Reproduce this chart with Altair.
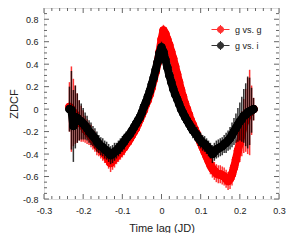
import altair as alt
import pandas as pd

# ---- data ----
LAGS = [
    -0.235, -0.230, -0.225, -0.220, -0.215, -0.210, -0.205, -0.200, -0.195, -0.190,
    -0.185, -0.180, -0.175, -0.170, -0.165, -0.160, -0.155, -0.150, -0.145, -0.140,
    -0.135, -0.130, -0.125, -0.120, -0.115, -0.110, -0.105, -0.100, -0.095, -0.090,
    -0.085, -0.080, -0.075, -0.070, -0.065, -0.060, -0.055, -0.050, -0.045, -0.040,
    -0.035, -0.030, -0.025, -0.020, -0.015, -0.010, -0.005, 0.000, 0.005, 0.010,
    0.015, 0.020, 0.025, 0.030, 0.035, 0.040, 0.045, 0.050, 0.055, 0.060,
    0.065, 0.070, 0.075, 0.080, 0.085, 0.090, 0.095, 0.100, 0.105, 0.110,
    0.115, 0.120, 0.125, 0.130, 0.135, 0.140, 0.145, 0.150, 0.155, 0.160,
    0.165, 0.170, 0.175, 0.180, 0.185, 0.190, 0.195, 0.200, 0.205, 0.210,
    0.215, 0.220, 0.225, 0.230, 0.235,
]

GG = [
    0.02, 0.00, -0.03, -0.05, -0.08, -0.10, -0.13, -0.15, -0.18, -0.20,
    -0.22, -0.24, -0.27, -0.29, -0.32, -0.34, -0.36, -0.38, -0.40, -0.42,
    -0.45, -0.48, -0.46, -0.44, -0.42, -0.40, -0.38, -0.36, -0.34, -0.31,
    -0.29, -0.26, -0.23, -0.20, -0.17, -0.13, -0.09, -0.05, -0.01, 0.04,
    0.08, 0.13, 0.19, 0.26, 0.33, 0.41, 0.51, 0.62, 0.70, 0.67,
    0.62, 0.57, 0.51, 0.45, 0.38, 0.31, 0.24, 0.17, 0.11, 0.05,
    0.00, -0.05, -0.10, -0.14, -0.18, -0.22, -0.26, -0.30, -0.34, -0.38,
    -0.42, -0.46, -0.50, -0.53, -0.55, -0.57, -0.58, -0.58, -0.59, -0.60,
    -0.62, -0.64, -0.62, -0.58, -0.52, -0.45, -0.37, -0.30, -0.22, -0.15,
    -0.10, -0.06, -0.03, -0.01, 0.00,
]
GG_ERR = [
    0.22, 0.38, 0.30, 0.26, 0.22, 0.18, 0.16, 0.14, 0.12, 0.11,
    0.10, 0.10, 0.09, 0.09, 0.09, 0.08, 0.08, 0.08, 0.08, 0.08,
    0.08, 0.08, 0.08, 0.08, 0.07, 0.07, 0.07, 0.07, 0.07, 0.06,
    0.06, 0.06, 0.06, 0.06, 0.06, 0.06, 0.06, 0.06, 0.06, 0.06,
    0.06, 0.06, 0.05, 0.05, 0.05, 0.05, 0.05, 0.05, 0.05, 0.05,
    0.05, 0.05, 0.05, 0.06, 0.06, 0.06, 0.06, 0.06, 0.06, 0.06,
    0.06, 0.06, 0.06, 0.07, 0.07, 0.07, 0.07, 0.07, 0.07, 0.08,
    0.08, 0.08, 0.08, 0.08, 0.08, 0.08, 0.08, 0.08, 0.08, 0.08,
    0.08, 0.08, 0.09, 0.10, 0.11, 0.12, 0.14, 0.17, 0.20, 0.24,
    0.28, 0.34, 0.38, 0.22, 0.10,
]

GI = [
    0.00, -0.01, -0.15, -0.07, -0.08, -0.10, -0.11, -0.13, -0.15, -0.17,
    -0.20, -0.22, -0.24, -0.26, -0.29, -0.31, -0.33, -0.34, -0.36, -0.37,
    -0.39, -0.41, -0.40, -0.38, -0.37, -0.35, -0.33, -0.31, -0.29, -0.26,
    -0.24, -0.22, -0.19, -0.16, -0.13, -0.10, -0.07, -0.03, 0.02, 0.06,
    0.11, 0.16, 0.22, 0.28, 0.35, 0.42, 0.50, 0.55, 0.51, 0.44,
    0.37, 0.30, 0.24, 0.18, 0.13, 0.09, 0.045, 0.00, -0.035, -0.07,
    -0.10, -0.13, -0.16, -0.19, -0.21, -0.23, -0.26, -0.28, -0.30, -0.31,
    -0.33, -0.35, -0.37, -0.40, -0.38, -0.36, -0.35, -0.34, -0.33, -0.31,
    -0.30, -0.28, -0.26, -0.23, -0.20, -0.17, -0.14, -0.11, -0.09, -0.06,
    -0.05, -0.03, -0.02, -0.01, 0.00,
]
GI_ERR = [
    0.20, 0.35, 0.32, 0.28, 0.22, 0.18, 0.16, 0.14, 0.12, 0.11,
    0.10, 0.10, 0.09, 0.09, 0.09, 0.08, 0.08, 0.08, 0.08, 0.08,
    0.08, 0.08, 0.08, 0.08, 0.07, 0.07, 0.07, 0.07, 0.07, 0.06,
    0.06, 0.06, 0.06, 0.06, 0.06, 0.06, 0.06, 0.06, 0.06, 0.06,
    0.06, 0.06, 0.05, 0.05, 0.05, 0.05, 0.05, 0.05, 0.05, 0.05,
    0.05, 0.05, 0.05, 0.06, 0.06, 0.06, 0.06, 0.06, 0.06, 0.06,
    0.06, 0.06, 0.06, 0.07, 0.07, 0.07, 0.07, 0.07, 0.07, 0.07,
    0.07, 0.07, 0.07, 0.08, 0.08, 0.08, 0.08, 0.08, 0.08, 0.08,
    0.09, 0.09, 0.10, 0.11, 0.12, 0.13, 0.15, 0.17, 0.20, 0.24,
    0.28, 0.32, 0.30, 0.20, 0.10,
]

SERIES = ["g vs. g", "g vs. i"]
COLORS = ["#ff0000", "#000000"]

X_MAJOR = [-0.3, -0.2, -0.1, 0.0, 0.1, 0.2, 0.3]
X_MINOR = [-0.28, -0.26, -0.24, -0.22, -0.18, -0.16, -0.14, -0.12,
           -0.08, -0.06, -0.04, -0.02, 0.02, 0.04, 0.06, 0.08,
           0.12, 0.14, 0.16, 0.18, 0.22, 0.24, 0.26, 0.28]
Y_MAJOR = [-0.8, -0.6, -0.4, -0.2, 0.0, 0.2, 0.4, 0.6, 0.8]
Y_MINOR = [-0.75, -0.7, -0.65, -0.55, -0.5, -0.45, -0.35, -0.3, -0.25,
           -0.15, -0.1, -0.05, 0.05, 0.1, 0.15, 0.25, 0.3, 0.35,
           0.45, 0.5, 0.55, 0.65, 0.7, 0.75, 0.85]

rows = []
for name, vals, errs in ((SERIES[0], GG, GG_ERR), (SERIES[1], GI, GI_ERR)):
    for x, v, e in zip(LAGS, vals, errs):
        rows.append({"series": name, "lag": x, "zdcf": v, "lo": v - e, "hi": v + e})
df = pd.DataFrame(rows)

W, H = 235, 191
FONT = "Liberation Sans"
TXT = "#222222"
FRAME = "#666666"

xs = alt.Scale(domain=[-0.3, 0.3], nice=False, zero=False)
ys = alt.Scale(domain=[-0.8, 0.9], nice=False, zero=False)
cs = alt.Scale(domain=SERIES, range=COLORS)

xaxis = alt.Axis(values=X_MAJOR, labelExpr="'' + datum.value", ticks=False, domain=False,
                 grid=False, labelFlush=False, labelOverlap=False, labelPadding=7,
                 labelFontSize=9, labelColor=TXT, labelFont=FONT,
                 title="Time lag (JD)", titleFontSize=11, titleFontWeight="normal",
                 titleFont=FONT, titleColor=TXT, titleBaseline="top", titleY=23)
yaxis = alt.Axis(values=Y_MAJOR, labelExpr="'' + datum.value", ticks=False, domain=False,
                 grid=False, labelFlush=False, labelOverlap=False, labelPadding=6,
                 labelFontSize=9, labelColor=TXT, labelFont=FONT,
                 title="ZDCF", titleFontSize=11, titleFontWeight="normal",
                 titleFont=FONT, titleColor=TXT, titleAngle=270, titleBaseline="bottom",
                 titleAlign="center", titleX=-25, titleY=H / 2)

LEG_PATH = ("M-1,0L1,0M0.35,0A0.35,0.35,0,1,1,-0.35,0A0.35,0.35,0,1,1,0.35,0Z"
            "M0,-0.5L0,0.5")
legend = alt.Legend(title=None, orient="none", legendX=167, legendY=12, padding=0,
                    labelFontSize=9, labelFont=FONT, labelColor=TXT, labelOffset=5,
                    symbolType=LEG_PATH, symbolSize=324, symbolStrokeWidth=1,
                    rowPadding=0)

base = alt.Chart(df)
layers = []
for name in SERIES:
    d = base.transform_filter(alt.datum.series == name)
    err = d.mark_rule(strokeWidth=1.5, opacity=0.8).encode(
        x=alt.X("lag:Q", scale=xs, axis=xaxis),
        y=alt.Y("lo:Q", scale=ys, axis=yaxis),
        y2="hi:Q",
        stroke=alt.Stroke("series:N", scale=cs, legend=legend),
    )
    band = d.mark_line(strokeWidth=8, strokeJoin="round", strokeCap="round").encode(
        x=alt.X("lag:Q", scale=xs, axis=xaxis),
        y=alt.Y("zdcf:Q", scale=ys, axis=yaxis),
        stroke=alt.Stroke("series:N", scale=cs, legend=legend),
    )
    pts = d.mark_point(shape="circle", size=60, filled=False, strokeWidth=1, opacity=1).encode(
        x=alt.X("lag:Q", scale=xs, axis=xaxis),
        y=alt.Y("zdcf:Q", scale=ys, axis=yaxis),
        stroke=alt.Stroke("series:N", scale=cs, legend=legend),
        fill=alt.Fill("series:N", scale=cs, legend=legend),
    )
    layers += [err, band, pts]

def xticks(vals, length, top):
    y0, y1 = (0, length) if top else (H, H - length)
    return alt.Chart(pd.DataFrame({"v": vals})).mark_rule(color=FRAME, strokeWidth=1).encode(
        x=alt.X("v:Q", scale=xs, axis=xaxis), y=alt.value(y0), y2=alt.value(y1))

def yticks(vals, length, right):
    x0, x1 = (W, W - length) if right else (0, length)
    return alt.Chart(pd.DataFrame({"v": vals})).mark_rule(color=FRAME, strokeWidth=1).encode(
        y=alt.Y("v:Q", scale=ys, axis=yaxis), x=alt.value(x0), x2=alt.value(x1))

ticks = [xticks(X_MAJOR, 5, False), xticks(X_MAJOR, 5, True),
         xticks(X_MINOR, 3, False), xticks(X_MINOR, 3, True),
         yticks(Y_MAJOR, 5, False), yticks(Y_MAJOR, 5, True),
         yticks(Y_MINOR, 3, False), yticks(Y_MINOR, 3, True)]

chart = alt.layer(*ticks, *layers).properties(
    width=W, height=H,
    padding={"left": 36, "top": 0, "right": 17, "bottom": 34},
    autosize=alt.AutoSizeParams(type="none"),
).configure_view(stroke=FRAME, strokeWidth=1).configure(font=FONT)

chart.save("out.html", embed_options={"renderer": "svg", "actions": False})
